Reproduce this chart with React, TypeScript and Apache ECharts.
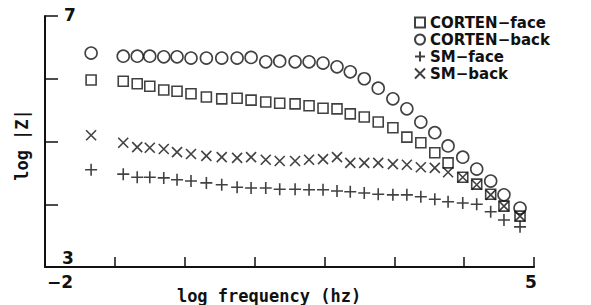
import React, { useEffect, useRef } from "react";
import * as echarts from "echarts";

const xVals = [-1.34, -0.88, -0.68, -0.5, -0.3, -0.11, 0.09, 0.31, 0.53, 0.75, 0.95, 1.16, 1.36, 1.58, 1.78, 1.98, 2.18, 2.37, 2.57, 2.77, 2.98, 3.18, 3.38, 3.58, 3.77, 3.98, 4.18, 4.38, 4.57, 4.8];
const cortenFace = [5.98, 5.96, 5.92, 5.88, 5.82, 5.8, 5.76, 5.71, 5.68, 5.69, 5.66, 5.63, 5.61, 5.6, 5.57, 5.53, 5.52, 5.44, 5.39, 5.31, 5.22, 5.07, 4.98, 4.82, 4.66, 4.43, 4.32, 4.16, 3.97, 3.81];
const cortenBack = [6.41, 6.36, 6.36, 6.36, 6.35, 6.35, 6.33, 6.33, 6.33, 6.33, 6.34, 6.27, 6.28, 6.27, 6.27, 6.25, 6.19, 6.11, 6.0, 5.85, 5.68, 5.52, 5.31, 5.14, 4.93, 4.75, 4.56, 4.37, 4.15, 3.94];
const smFace = [4.55, 4.48, 4.43, 4.43, 4.42, 4.39, 4.37, 4.34, 4.31, 4.27, 4.26, 4.26, 4.24, 4.24, 4.23, 4.23, 4.21, 4.2, 4.18, 4.16, 4.15, 4.15, 4.12, 4.08, 4.04, 4.02, 4.0, 3.88, 3.75, 3.64];
const smBack = [5.1, 4.98, 4.91, 4.9, 4.88, 4.83, 4.8, 4.77, 4.75, 4.74, 4.75, 4.71, 4.69, 4.69, 4.71, 4.72, 4.75, 4.66, 4.66, 4.66, 4.64, 4.63, 4.59, 4.58, 4.51, 4.43, 4.31, 4.15, 3.97, 3.81];

const seriesNames = ["CORTEN−face", "CORTEN−back", "SM−face", "SM−back"];
const xTickLabels = ["−2", "5"];
const yTickLabels = ["7", "3"];
const xTitle = "log frequency (hz)";
const yTitle = "log |Z|";

const INK = "#111";

export default function App() {
  const ref = useRef<HTMLDivElement>(null);
  useEffect(() => {
    if (!ref.current) return;
    const chart = echarts.init(ref.current, null, { renderer: "svg" });
    const pair = (ys: number[]) => xVals.map((x, i) => [x, ys[i]]);
    const hollow = { color: "rgba(0,0,0,0)", borderColor: INK, borderWidth: 1.6 };
    const symbols = ["rect", "circle", "path://M0,5H10M5,0V10", "path://M0,0L10,10M10,0L0,10"];
    const sizes = [10, 12, 12, 10];
    const datas = [cortenFace, cortenBack, smFace, smBack];
    chart.setOption({
      animation: false,
      backgroundColor: "#fff",
      grid: { left: 45, right: 57, top: 16, bottom: 38 },
      xAxis: {
        type: "value",
        min: -2,
        max: 5,
        interval: 1,
        axisLine: { onZero: false, lineStyle: { color: INK, width: 2 } },
        axisTick: { inside: true, length: 10, lineStyle: { color: INK, width: 1.5 } },
        axisLabel: { show: false },
        splitLine: { show: false },
      },
      yAxis: {
        type: "value",
        min: 3,
        max: 7,
        interval: 1,
        axisLine: { show: true, onZero: false, lineStyle: { color: INK, width: 2 } },
        axisTick: { show: true, inside: true, length: 13, lineStyle: { color: INK, width: 1.5 } },
        axisLabel: { show: false },
        splitLine: { show: false },
      },
      legend: {
        orient: "vertical",
        left: 414,
        top: 15,
        padding: 0,
        itemWidth: 10,
        itemHeight: 10,
        itemGap: 2,
        data: seriesNames,
        textStyle: { fontFamily: "DejaVu Sans", fontWeight: 600, fontSize: 15, lineHeight: 15, color: INK },
      },
      series: seriesNames.map((name, k) => ({
        name,
        type: "scatter",
        symbol: symbols[k],
        symbolSize: sizes[k],
        itemStyle: hollow,
        data: pair(datas[k]),
      })),
      graphic: [
        { type: "text", left: 64, top: 6, style: { text: yTickLabels[0], font: "bold 17px DejaVu Sans", fill: INK } },
        { type: "text", left: 62, top: 249, style: { text: yTickLabels[1], font: "bold 17px DejaVu Sans", fill: INK } },
        { type: "text", left: 47, top: 273, style: { text: xTickLabels[0], font: "bold 17px DejaVu Sans", fill: INK } },
        { type: "text", left: 525, top: 273, style: { text: xTickLabels[1], font: "bold 17px DejaVu Sans", fill: INK } },
        {
          type: "text",
          x: 269,
          y: 296,
          style: { text: xTitle, font: "bold 17px DejaVu Sans Mono", fill: INK, align: "center", verticalAlign: "middle" },
        },
        {
          type: "text",
          x: 22,
          y: 145,
          rotation: Math.PI / 2,
          style: { text: yTitle, font: "bold 17px DejaVu Sans Mono", fill: INK, align: "center", verticalAlign: "middle" },
        },
      ],
    });
    return () => chart.dispose();
  }, []);
  return <div ref={ref} style={{ position: "fixed", left: 0, top: 0, width: 591, height: 305 }} />;
}
